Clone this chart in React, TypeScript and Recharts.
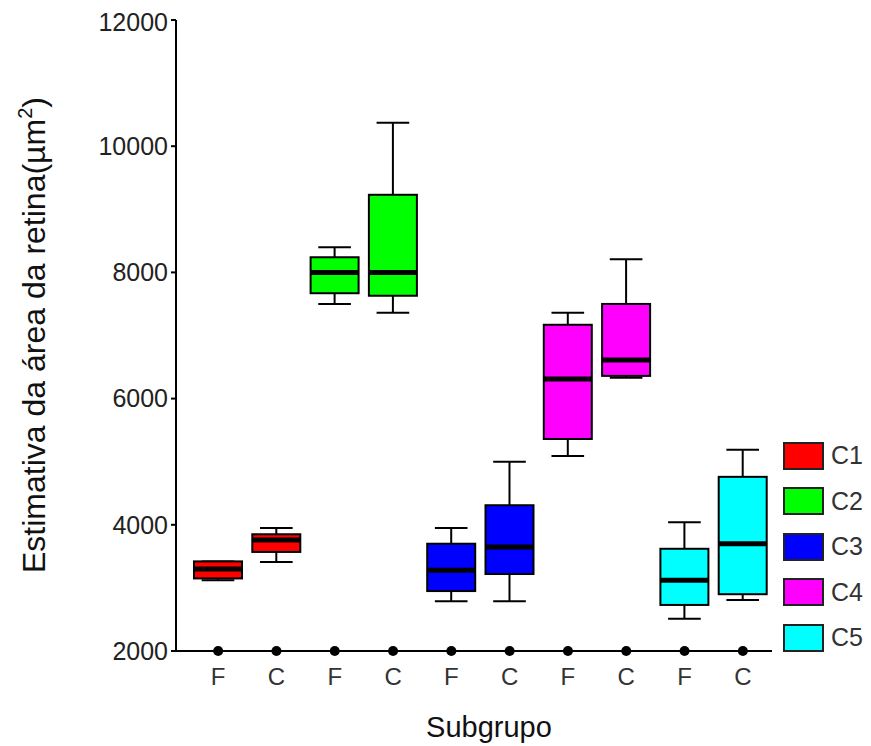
import React from 'react';
import {
  ComposedChart,
  Bar,
  XAxis,
  YAxis,
  Legend,
  Label,
} from 'recharts';

// subgroups, in order along the x axis
const groups = ['C1', 'C1', 'C2', 'C2', 'C3', 'C3', 'C4', 'C4', 'C5', 'C5'];
const subgroups = ['F', 'C', 'F', 'C', 'F', 'C', 'F', 'C', 'F', 'C'];

// box plot stats (µm²)
const mins = [3120, 3410, 7500, 7360, 2790, 2790, 5090, 6330, 2510, 2810];
const q1s = [3150, 3570, 7670, 7630, 2950, 3220, 5360, 6360, 2730, 2900];
const medians = [3300, 3760, 8000, 8000, 3280, 3650, 6310, 6610, 3120, 3700];
const q3s = [3420, 3850, 8240, 9230, 3700, 4310, 7170, 7500, 3620, 4760];
const maxs = [3420, 3950, 8400, 10370, 3950, 5000, 7360, 8210, 4040, 5190];

const yTicks = [2000, 4000, 6000, 8000, 10000, 12000];

const legendNames = ['C1', 'C2', 'C3', 'C4', 'C5'];
const colors: Record<string, string> = {
  C1: '#ff0000',
  C2: '#00ff00',
  C3: '#0000ff',
  C4: '#ff00ff',
  C5: '#00ffff',
};

const data = groups.map((g, i) => ({
  id: `${g}-${subgroups[i]}`,
  group: g,
  sub: subgroups[i],
  min: mins[i],
  q1: q1s[i],
  median: medians[i],
  q3: q3s[i],
  max: maxs[i],
  range: [mins[i], maxs[i]],
}));

const FONT = '"Liberation Sans", Arial, sans-serif';

// draws one box from the range bar geometry (min..max in pixels)
const BoxShape = (props: any) => {
  const { x, y, width, height, payload } = props;
  const top = Math.min(y, y + height);
  const h = Math.abs(height);
  const span = payload.max - payload.min;
  const py = (v: number) => (span === 0 ? top : top + (h * (payload.max - v)) / span);
  const cx = x + width / 2;
  const cap = width * 0.34;
  const yMax = py(payload.max);
  const yMin = py(payload.min);
  const yQ1 = py(payload.q1);
  const yQ3 = py(payload.q3);
  const yMed = py(payload.median);
  return (
    <g>
      <line x1={cx} x2={cx} y1={yMax} y2={yQ3} stroke="#000" strokeWidth={2} />
      <line x1={cx} x2={cx} y1={yQ1} y2={yMin} stroke="#000" strokeWidth={2} />
      <line x1={cx - cap} x2={cx + cap} y1={yMax} y2={yMax} stroke="#000" strokeWidth={2} />
      <line x1={cx - cap} x2={cx + cap} y1={yMin} y2={yMin} stroke="#000" strokeWidth={2} />
      <rect
        x={x}
        y={yQ3}
        width={width}
        height={Math.max(yQ1 - yQ3, 1)}
        fill={colors[payload.group]}
        stroke="#000"
        strokeWidth={2}
      />
      <line x1={x} x2={x + width} y1={yMed} y2={yMed} stroke="#000" strokeWidth={5} />
    </g>
  );
};

const XTick = (props: any) => {
  const { x, y, payload } = props;
  const label = payload.value.split('-')[1];
  return (
    <g>
      <circle cx={x} cy={y} r={5} fill="#000" />
      <text
        x={x}
        y={y + 34}
        textAnchor="middle"
        fontSize={24}
        fontFamily={FONT}
        fill="#333"
      >
        {label}
      </text>
    </g>
  );
};

const renderLegend = () => (
  <div style={{ fontFamily: FONT }}>
    {legendNames.map((name) => (
      <div
        key={name}
        style={{ display: 'flex', alignItems: 'center', height: 45.5 }}
      >
        <div
          style={{
            width: 37,
            height: 24,
            background: colors[name],
            border: '2px solid #222',
          }}
        />
        <span style={{ marginLeft: 7, fontSize: 25, color: '#333' }}>{name}</span>
      </div>
    ))}
  </div>
);

const YLabel = () => (
  <text
    transform="translate(37, 327) rotate(-90)"
    textAnchor="middle"
    fontSize={32}
    fontFamily={FONT}
    fill="#111"
  >
    Estimativa da área da retina(µm
    <tspan fontSize={20} dy={-13}>2</tspan>
    <tspan dy={13}>)</tspan>
  </text>
);

const XLabel = () => (
  <text x={481} y={729} textAnchor="middle" fontSize={29} fontFamily={FONT} fill="#111">
    Subgrupo
  </text>
);

const App = () => {
  return (
    <div style={{ width: 863, height: 738 }}>
      <ComposedChart
        width={863}
        height={738}
        data={data}
        margin={{ top: 12, right: 9, bottom: 25, left: 108 }}
      >
        <XAxis
          dataKey="id"
          height={70}
          padding={{ left: 13, right: 0 }}
          axisLine={{ stroke: '#000', strokeWidth: 2 }}
          tickLine={false}
          tickSize={0}
          tickMargin={0}
          interval={0}
          tick={<XTick />}
        >
          <Label content={<XLabel />} />
        </XAxis>
        <YAxis
          width={60}
          domain={[2000, 12000]}
          ticks={yTicks}
          allowDataOverflow
          axisLine={{ stroke: '#000', strokeWidth: 2 }}
          tickLine={{ stroke: '#000', strokeWidth: 2 }}
          tickSize={5}
          tickMargin={3}
          tick={{ fontSize: 25, fontFamily: FONT, fill: '#222' }}
        >
          <Label content={<YLabel />} />
        </YAxis>
        <Legend
          layout="vertical"
          verticalAlign="top"
          align="right"
          content={renderLegend}
          wrapperStyle={{ position: 'absolute', left: 775, top: 425, width: 90 }}
        />
        <Bar
          dataKey="range"
          barSize={48}
          shape={<BoxShape />}
          isAnimationActive={false}
        />
      </ComposedChart>
    </div>
  );
};

export default App;
